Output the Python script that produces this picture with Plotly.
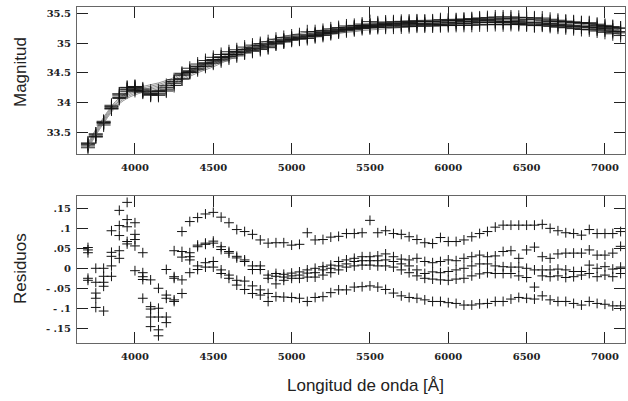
import plotly.graph_objects as go

# Wavelength grid (Angstrom)
wave = list(range(3700, 7101, 50))

# Base model magnitude curve
base_mag = [33.27, 33.50, 33.70, 33.89, 34.03, 34.12, 34.18, 34.22, 34.25, 34.28,
            34.32, 34.37, 34.43, 34.49, 34.55, 34.60, 34.65, 34.71, 34.77, 34.82,
            34.87, 34.91, 34.95, 34.99, 35.03, 35.06, 35.09, 35.11, 35.13, 35.15,
            35.17, 35.19, 35.21, 35.23, 35.24, 35.26, 35.27, 35.28, 35.29, 35.30,
            35.31, 35.32, 35.33, 35.335, 35.34, 35.345, 35.35, 35.355, 35.36, 35.36,
            35.365, 35.365, 35.365, 35.36, 35.36, 35.355, 35.35, 35.345, 35.34, 35.33,
            35.32, 35.31, 35.30, 35.29, 35.275, 35.26, 35.24, 35.22, 35.19]

# Residuals (as displayed in the lower panel) for five spectra
resid_s1 = [0.052, 0.000, 0.000, 0.094, 0.145, 0.165, 0.114, 0.039, -0.029, -0.050,
            -0.003, 0.044, 0.092, 0.117, 0.127, 0.136, 0.140, 0.128, 0.114, 0.097,
            0.092, 0.085, 0.071, 0.063, 0.064, 0.064,
            0.058, 0.060, 0.089, 0.071, 0.072, 0.078, 0.080, 0.087, 0.087, 0.089,
            0.120, 0.089, 0.094, 0.087, 0.085, 0.079, 0.072, 0.064, 0.062, 0.077,
            0.067, 0.067, 0.071, 0.079, 0.087, 0.092, 0.103, 0.108, 0.108, 0.108,
            0.108, 0.108, 0.110, 0.100, 0.094, 0.089, 0.087, 0.083, 0.097, 0.087,
            0.087, 0.087, 0.092]
resid_s2 = [0.046, -0.035, -0.020, 0.040, 0.107, 0.122, 0.085, -0.011, -0.096, -0.100,
            -0.067, -0.021, 0.042, 0.039, 0.058, 0.063, 0.068, 0.054, 0.042, 0.030,
            0.021, 0.006, 0.006, -0.017, -0.013, -0.015,
            -0.012, -0.009, -0.004, 0.000, 0.004, 0.008, 0.017, 0.021, 0.025, 0.029,
            0.029, 0.031, 0.036, 0.029, 0.023, 0.021, 0.025, 0.017, 0.014, 0.017,
            0.021, 0.019, 0.025, 0.029, 0.033, 0.029, 0.031, 0.042, 0.044, 0.025,
            0.046, 0.053, 0.029, 0.025, 0.036, 0.038, 0.038, 0.038, 0.046, 0.033,
            0.033, 0.038, 0.055]
resid_s3 = [0.039, -0.062, -0.035, 0.030, 0.082, 0.104, 0.072, -0.021, -0.102, -0.122,
            -0.075, -0.025, 0.028, 0.029, 0.054, 0.060, 0.063, 0.047, 0.038, 0.026,
            0.017, -0.003, -0.003, -0.025, -0.020, -0.022,
            -0.019, -0.017, -0.012, -0.011, -0.004, 0.000, 0.006, 0.011, 0.017, 0.019,
            0.019, 0.019, 0.021, 0.017, 0.011, 0.006, -0.004, -0.013, -0.009, -0.011,
            -0.008, -0.004, 0.000, 0.006, 0.011, 0.011, 0.006, 0.004, 0.003, 0.003,
            0.000, -0.004, -0.004, -0.004, -0.002, -0.004, -0.008, -0.008, 0.008, 0.000,
            0.004, -0.002, 0.003]
resid_s4 = [-0.025, -0.075, -0.045, 0.006, 0.044, 0.067, 0.056, -0.028, -0.122, -0.154,
            -0.122, -0.079, -0.029, 0.021, 0.006, 0.014, 0.017, -0.004, -0.017, -0.030,
            -0.032, -0.044, -0.054, -0.063, -0.039, -0.030,
            -0.025, -0.025, -0.022, -0.022, -0.017, -0.011, -0.004, 0.003, 0.006, 0.008,
            0.008, 0.006, 0.006, 0.003, -0.004, -0.011, -0.019, -0.025, -0.027, -0.029,
            -0.030, -0.027, -0.025, -0.019, -0.014, -0.011, -0.013, -0.013, -0.013, -0.019,
            -0.023, -0.047, -0.019, -0.021, -0.019, -0.023, -0.021, -0.017, -0.013, -0.021,
            -0.017, -0.021, -0.013]
resid_s5 = [-0.030, -0.098, -0.107, -0.020, 0.025, 0.061, -0.006, -0.075, -0.146, -0.169,
            -0.136, -0.083, -0.063, -0.011, -0.003, 0.003, 0.003, -0.013, -0.025, -0.042,
            -0.053, -0.063, -0.067, -0.083, -0.071, -0.072,
            -0.073, -0.075, -0.083, -0.073, -0.071, -0.061, -0.054, -0.054, -0.047, -0.046,
            -0.044, -0.047, -0.053, -0.062, -0.069, -0.073, -0.075, -0.079, -0.083, -0.083,
            -0.086, -0.088, -0.092, -0.092, -0.089, -0.088, -0.083, -0.083, -0.077, -0.073,
            -0.075, -0.077, -0.069, -0.079, -0.083, -0.083, -0.088, -0.092, -0.083, -0.088,
            -0.090, -0.094, -0.094]
residuals = [resid_s1, resid_s2, resid_s3, resid_s4, resid_s5]

# Vertical display offsets used in the residual panel, and model offsets in the top panel
display_offset = [0.08, 0.02, 0.0, -0.02, -0.08]
model_offset = [0.05, 0.025, 0.0, -0.025, -0.05]

x_ticks = [4000, 4500, 5000, 5500, 6000, 6500, 7000]
mag_ticks = [33.5, 34, 34.5, 35, 35.5]
mag_ticktext = ["33.5", "34", "34.5", "35", "35.5"]
res_ticks = [-0.15, -0.1, -0.05, 0, 0.05, 0.1, 0.15]
res_ticktext = ["- .15", "- .1", "- .05", "0", ".05", ".1", ".15"]

fig = go.Figure()

for res, doff, moff in zip(residuals, display_offset, model_offset):
    model = [b + moff for b in base_mag]
    obs = [m + r - doff for m, r in zip(model, res)]
    fig.add_trace(go.Scatter(x=wave, y=model, mode="lines", line_shape="spline",
                             line=dict(color="#666", width=0.7),
                             xaxis="x", yaxis="y", showlegend=False, hoverinfo="skip"))
    fig.add_trace(go.Scatter(x=wave, y=obs, mode="markers",
                             marker=dict(symbol="cross-thin", size=10,
                                         line=dict(color="#111", width=0.9)),
                             xaxis="x", yaxis="y", showlegend=False))
    fig.add_trace(go.Scatter(x=wave, y=res, mode="markers",
                             marker=dict(symbol="cross-thin", size=7,
                                         line=dict(color="#111", width=1)),
                             xaxis="x2", yaxis="y2", showlegend=False))

tickfont = dict(family="DejaVu Serif", size=10, color="#222", weight="bold")
common = dict(showline=True, linecolor="#666", linewidth=1, mirror="ticks",
              ticks="inside", ticklen=11, tickwidth=1.4, tickcolor="#222",
              showgrid=False, zeroline=False, tickfont=tickfont)

fig.update_layout(
    width=628, height=401,
    margin=dict(l=77, r=3, t=7, b=58),
    paper_bgcolor="white", plot_bgcolor="white",
    xaxis=dict(domain=[0, 1], anchor="y", range=[3630, 7128], tickvals=x_ticks,
               ticklabelstandoff=4, **common),
    yaxis=dict(domain=[0.5625, 1], anchor="x", range=[33.135, 35.606],
               tickvals=mag_ticks, ticktext=mag_ticktext, ticklabelstandoff=3, **common),
    xaxis2=dict(domain=[0, 1], anchor="y2", range=[3630, 7128], tickvals=x_ticks,
                ticklabelstandoff=4, **common),
    yaxis2=dict(domain=[0, 0.4375], anchor="x2", range=[-0.187, 0.181],
                tickvals=res_ticks, ticktext=res_ticktext, ticklabelstandoff=3, **common),
    annotations=[
        dict(text="Magnitud", xref="paper", yref="paper", x=-0.104, y=0.8065,
             textangle=-90, showarrow=False, xanchor="center", yanchor="middle",
             font=dict(family="Liberation Sans", size=17, color="#222")),
        dict(text="Residuos", xref="paper", yref="paper", x=-0.104, y=0.22,
             textangle=-90, showarrow=False, xanchor="center", yanchor="middle",
             font=dict(family="Liberation Sans", size=17, color="#222")),
        dict(text="Longitud de onda [Å]", xref="paper", yref="paper", x=0.527, y=-0.125,
             showarrow=False, xanchor="center", yanchor="middle",
             font=dict(family="Liberation Sans", size=17, color="#222")),
    ],
)

fig.write_html("out.html", config={"displayModeBar": False},
               post_script="document.body.style.margin='0';document.body.style.overflow='hidden';")
